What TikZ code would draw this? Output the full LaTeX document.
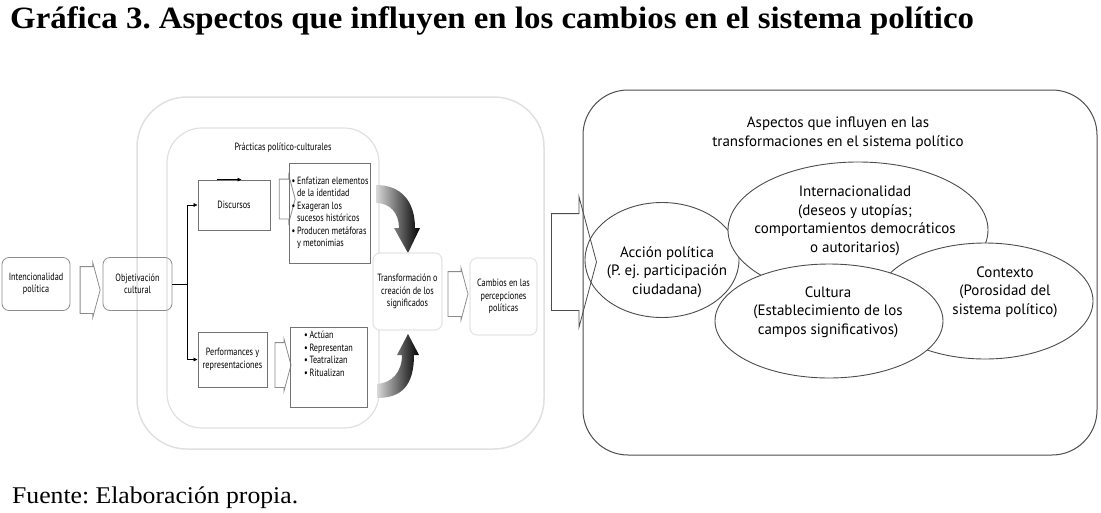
\documentclass[tikz,border=0pt]{standalone}
\usepackage{fontspec}
\setmainfont{Liberation Serif}
\newfontfamily\titfont[FakeStretch=1.06]{Liberation Serif}
\newfontfamily\piefont[FakeStretch=1.07]{Liberation Serif}
\newfontfamily\condfont[FakeStretch=0.78]{PT Sans}
\newfontfamily\aspfont{PT Sans}
\usetikzlibrary{shapes.geometric,shapes.arrows,arrows.meta}
\newcommand{\vineta}{\textbullet\,}
\newcommand{\sangria}{\phantom{\textbullet\,}}
\frenchspacing
\begin{document}
\begin{tikzpicture}[x=1pt,y=-1pt,
    chico/.style={font=\condfont\fontsize{10.5}{12.5}\selectfont},
    caja/.style={chico,draw=black!45,rounded corners=7,align=center,inner sep=2,line width=0.8},
    cajaclara/.style={caja,draw=black!10,fill=white,line width=1.2},
    recuadro/.style={chico,draw=black!55,align=center,inner sep=2,line width=0.8},
    lista/.style={recuadro,align=left},
    bloque/.style={single arrow,draw=black!45,single arrow tip angle=150,single arrow head extend=4,inner xsep=0,line width=0.8},
    elipse/.style={ellipse,draw=black!70,fill=white,inner sep=0,line width=0.9},
    aspecto/.style={align=center,font=\aspfont\fontsize{15}{18.5}\selectfont}]
  \useasboundingbox (0,0) rectangle (1101,512);

  \node[anchor=base west,inner sep=0,font=\titfont\bfseries\fontsize{31}{32}\selectfont] (grafica) at (10,28)
    {Gráfica 3. Aspectos que influyen en los cambios en el sistema político};
  \node[anchor=base west,inner sep=0,font=\piefont\fontsize{24}{26}\selectfont] (fuente) at (12,503)
    {Fuente: Elaboración propia.};

  \draw[draw=black!12,line width=1.5,rounded corners=50] (137,97) rectangle (544,449);
  \draw[draw=black!12,line width=1.2,rounded corners=35] (167,128) rectangle (379,428);
  \node[chico] (practicas) at (283,148) {Prácticas político-culturales};

  \node[caja,minimum width=68,minimum height=53] (intencion) at (36,284) {Intencionalidad\\política};
  \node[bloque,minimum height=20,inner ysep=23] (paso1) at (87,290) {};
  \node[caja,minimum width=69,minimum height=53] (objetiva) at (137.5,284) {Objetivación\\cultural};

  \node[recuadro,minimum width=72,minimum height=50] (discursos) at (234,205) {Discursos};
  \node[recuadro,minimum width=69,minimum height=55] (performa) at (232.5,359.5) {Performances y\\representaciones};
  \draw (objetiva.east) -- ++(15,0) coordinate (rama);
  \draw[-{Latex[length=4pt,width=4pt]}] (rama) |- (discursos.west);
  \draw[-{Latex[length=4pt,width=4pt]}] (rama) |- (performa.west);
  \draw[-{Latex[length=4pt,width=4pt]}] ([xshift=19]discursos.north west) -- ([xshift=44]discursos.north west);

  \node[bloque,minimum height=16,inner ysep=19.5] (paso2) at (284.5,199) {};
  \node[bloque,minimum height=16,inner ysep=22] (paso3) at (280,365) {};
  \node[lista,minimum width=76,minimum height=100] (lista1) at (330,213)
    {\vineta Enfatizan elementos\\\sangria de la identidad\\\vineta Exageran los\\\sangria sucesos históricos\\\vineta Producen metáforas\\\sangria y metonimias};
  \node[lista,minimum width=77,minimum height=80] (lista2) at (328.5,367)
    {\vineta Actúan\\\vineta Representan\\\vineta Teatralizan\\\vineta Ritualizan\\[14pt]};

  \shade[left color=black!15,right color=black]
    (376,185) .. controls (400,185) and (415,200) .. (415,228)
    -- (420,228) -- (408,253) -- (394,228) -- (399,228)
    .. controls (399,213) and (390,203) .. (376,203) -- cycle;
  \shade[left color=black!15,right color=black]
    (377,398) .. controls (402,398) and (414,385) .. (414,355)
    -- (419,355) -- (408,334) -- (397,355) -- (402,355)
    .. controls (402,372) and (392,383) .. (377,384) -- cycle;

  \node[cajaclara,minimum width=69,minimum height=77] (transforma) at (407.5,291.5) {Transformación o\\creación de los\\significados};
  \node[bloque,minimum height=20,inner ysep=22] (paso4) at (455,294) {};
  \node[cajaclara,minimum width=67,minimum height=77] (cambios) at (503.5,296.5) {Cambios en las\\percepciones\\políticas};

  \draw[draw=black!70,line width=1,rounded corners=45] (583,90) rectangle (1097,455);
  \node[aspecto] (titulo) at (838,133) {Aspectos que influyen en las\\transformaciones en el sistema político};
  \node[elipse,minimum width=154,minimum height=115] (accion) at (662,260) {};
  \node[elipse,minimum width=260,minimum height=136] (intencional) at (858,230) {};
  \node[elipse,minimum width=216,minimum height=116] (contexto) at (985,301) {};
  \node[elipse,minimum width=228,minimum height=114] (cultura) at (829,321) {};
  \node[aspecto] (accion-t) at (667,272) {Acción política\\(P. ej. participación\\ciudadana)};
  \node[aspecto] (intencional-t) at (855,221) {Internacionalidad\\(deseos y utopías;\\comportamientos democráticos\\o autoritarios)};
  \node[aspecto] (contexto-t) at (1005,292) {Contexto\\(Porosidad del\\sistema político)};
  \node[aspecto] (cultura-t) at (828,312) {Cultura\\(Establecimiento de los\\campos significativos)};

  \node[bloque,draw=black!70,single arrow head extend=17,minimum height=45,inner ysep=48] (paso5) at (567.5,262) {};
\end{tikzpicture}
\end{document}
